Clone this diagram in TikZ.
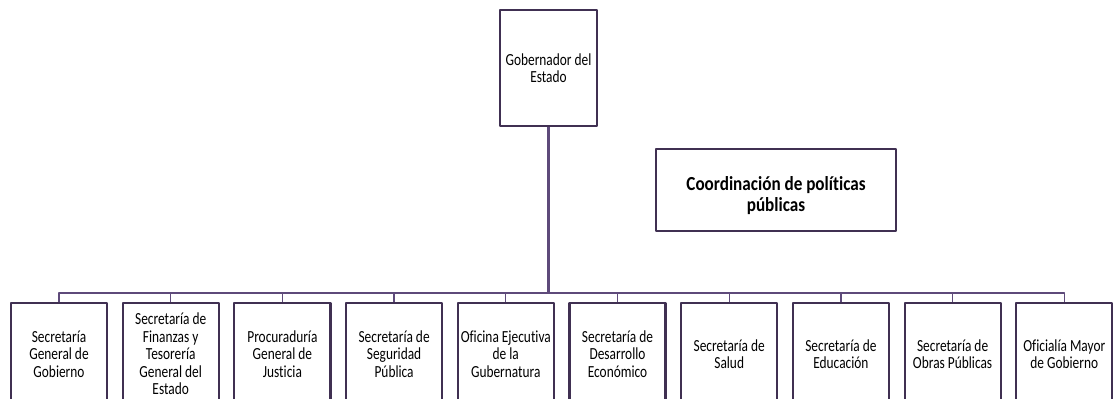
\documentclass[tikz,border=0pt]{standalone}
\usepackage{fontspec}
\setmainfont{Carlito}
\newfontfamily\boxfont[FakeStretch=0.79,Ligatures={NoCommon}]{Carlito}
\newfontfamily\titlefont[FakeStretch=0.86,Ligatures={NoCommon}]{Carlito}
\usepackage{tikz}
\usetikzlibrary{arrows}
\usetikzlibrary{positioning}
\definecolor{boxedge}{rgb}{0.25,0.19,0.32}
\definecolor{linecol}{rgb}{0.37,0.29,0.48}
\tikzset{unit/.style={draw=boxedge,line width=2.2pt,fill=white,rectangle,align=center,
  minimum width=96bp,minimum height=102bp,inner sep=1bp,
  font=\boxfont\fontsize{17}{17.5}\selectfont},
  link/.style={linecol,line width=1.3bp}}

\begin{document}
\begin{tikzpicture}[line join=bevel]
\useasboundingbox (0bp,0bp) rectangle (1114bp,399bp);
%%
\node (gob) at (548.5bp,331bp) [unit,minimum width=97bp,minimum height=116bp] {Gobernador del\\Estado};
\node (coord) at (776bp,209bp) [unit,minimum width=240bp,minimum height=82bp,
  font=\titlefont\bfseries\fontsize{20}{21}\selectfont] {\rule{0pt}{25bp}Coordinación de políticas\\públicas};
\coordinate (bus) at (548.5bp,106bp);
%%
  \node (s1) at (59.0bp,45bp) [unit] {Secretaría\\General de\\Gobierno};
  \node (s2) at (170.7bp,45bp) [unit] {Secretaría de\\Finanzas y\\Tesorería\\General del\\Estado};
  \node (s3) at (282.4bp,45bp) [unit] {Procuraduría\\General de\\Justicia};
  \node (s4) at (394.1bp,45bp) [unit] {Secretaría de\\Seguridad\\Pública};
  \node (s5) at (505.8bp,45bp) [unit] {Oficina Ejecutiva\\de la\\Gubernatura};
  \node (s6) at (617.5bp,45bp) [unit] {Secretaría de\\Desarrollo\\Económico};
  \node (s7) at (729.2bp,45bp) [unit] {Secretaría de\\Salud};
  \node (s8) at (840.9bp,45bp) [unit] {Secretaría de\\Educación};
  \node (s9) at (952.6bp,45bp) [unit] {Secretaría de\\Obras Públicas};
  \node (s10) at (1064.3bp,45bp) [unit] {Oficialía Mayor\\de Gobierno};
%%
  \draw [link,line width=2.4bp] (gob) -- (bus);
  \draw [link] (s1) |- (bus);
  \draw [link] (s2) |- (bus);
  \draw [link] (s3) |- (bus);
  \draw [link] (s4) |- (bus);
  \draw [link] (s5) |- (bus);
  \draw [link] (s6) |- (bus);
  \draw [link] (s7) |- (bus);
  \draw [link] (s8) |- (bus);
  \draw [link] (s9) |- (bus);
  \draw [link] (s10) |- (bus);
%
\end{tikzpicture}
\end{document}
